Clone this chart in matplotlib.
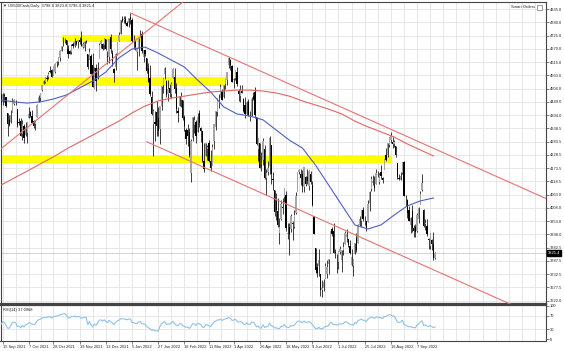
import numpy as np
import pandas as pd
import matplotlib
matplotlib.use("Agg")
import matplotlib.pyplot as plt
import matplotlib.transforms as mtransforms
from matplotlib.patches import Rectangle

plt.rcParams["font.family"] = ["Liberation Sans", "DejaVu Sans"]

# US500Cash daily bars, 14 Sep 2021 .. 22 Sep 2022 (no bars on 24 Dec 2021 and Good Friday)
dates = pd.bdate_range("2021-09-14", "2022-09-22").drop(pd.to_datetime(["2021-12-24", "2022-04-15"]))

opens = [
    4479, 4447, 4477, 4469, 4402, 4375, 4367, 4406, 4439, 4443, 4420, 4367, 4371,  # Sep 21
    4317, 4349, 4310, 4319, 4384, 4406, 4391, 4368, 4358, 4387, 4448, 4464, 4497, 4524, 4532, 4547, 4553, 4578, 4580, 4562, 4573,  # Oct
    4610, 4613, 4630, 4662, 4699, 4701, 4707, 4670, 4659, 4655, 4689, 4680, 4701, 4700, 4708, 4712, 4679, 4675, 4702, 4650, 4628, 4640,  # Nov
    4602, 4505, 4589, 4549, 4632, 4690, 4691, 4687, 4710, 4642, 4637, 4719, 4652, 4587, 4594, 4650, 4703, 4733, 4795, 4788, 4794, 4776,  # Dec
    4779, 4804, 4788, 4693, 4698, 4656, 4669, 4729, 4733, 4637, 4663, 4632, 4589, 4548, 4471, 4357, 4366, 4408, 4381, 4337, 4432,  # Jan 22
    4519, 4566, 4535, 4483, 4505, 4480, 4547, 4553, 4507, 4413, 4430, 4455, 4456, 4385, 4330, 4333, 4324, 4155, 4298, 4354,  # Feb
    4364, 4322, 4401, 4342, 4328, 4203, 4224, 4252, 4279, 4203, 4188, 4288, 4346, 4407, 4462, 4469, 4493, 4470, 4522, 4541, 4602, 4624, 4599,  # Mar
    4540, 4548, 4572, 4495, 4475, 4494, 4462, 4438, 4398, 4449, 4385, 4390, 4473, 4490, 4385, 4255, 4278, 4187, 4207, 4253,  # Apr
    4131, 4159, 4181, 4271, 4129, 4081, 4035, 3993, 3903, 3963, 4013, 4052, 4060, 3900, 3927, 3920, 3943, 3930, 3985, 4077, 4158, 4151,  # May
    4150, 4095, 4137, 4135, 4097, 4147, 4102, 3975, 3839, 3763, 3764, 3733, 3665, 3675, 3715, 3734, 3774, 3821, 3920, 3913, 3825, 3786,  # Jun
    3782, 3825, 3793, 3831, 3858, 3888, 3880, 3851, 3772, 3764, 3818, 3883, 3861, 3936, 3955, 3999, 3965, 3953, 3951, 4027, 4087,  # Jul
    4112, 4105, 4108, 4155, 4116, 4156, 4133, 4170, 4227, 4226, 4270, 4290, 4281, 4274, 4267, 4195, 4134, 4126, 4154, 4199, 4034, 4041, 4000,  # Aug
    3937, 3995, 3924, 3930, 3910, 3960, 4022, 4084, 3999, 3941, 3932, 3880, 3849, 3876, 3856, 3798.8,  # Sep 22
]
highs = [
    4485, 4486, 4485, 4471, 4402, 4394, 4416, 4465, 4463, 4457, 4420, 4383, 4383,
    4375, 4356, 4366, 4365, 4429, 4412, 4415, 4375, 4372, 4439, 4476, 4488, 4520, 4540, 4551, 4560, 4572, 4599, 4585, 4598, 4609,
    4620, 4636, 4664, 4683, 4718, 4714, 4708, 4685, 4664, 4688, 4697, 4714, 4701, 4708, 4717, 4744, 4699, 4702, 4708, 4650, 4672, 4647,
    4652, 4596, 4608, 4613, 4695, 4705, 4695, 4713, 4712, 4660, 4712, 4731, 4666, 4591, 4651, 4698, 4740, 4791, 4807, 4805, 4808, 4787,
    4797, 4819, 4798, 4726, 4708, 4673, 4714, 4749, 4745, 4665, 4667, 4632, 4612, 4602, 4495, 4418, 4412, 4453, 4429, 4432, 4517,
    4550, 4595, 4542, 4540, 4522, 4531, 4590, 4588, 4527, 4426, 4472, 4490, 4456, 4394, 4340, 4359, 4341, 4295, 4385, 4389,
    4375, 4401, 4416, 4343, 4328, 4276, 4277, 4268, 4292, 4247, 4272, 4358, 4412, 4466, 4481, 4522, 4501, 4520, 4546, 4575, 4637, 4627, 4603,
    4548, 4583, 4593, 4503, 4521, 4521, 4464, 4471, 4453, 4460, 4411, 4471, 4489, 4513, 4386, 4300, 4278, 4240, 4300, 4269,
    4170, 4201, 4308, 4271, 4158, 4082, 4069, 4050, 3964, 4039, 4047, 4091, 4077, 3946, 3943, 3981, 3955, 3999, 4076, 4158, 4170, 4168,
    4167, 4177, 4142, 4169, 4164, 4160, 4119, 3975, 3839, 3779, 3837, 3733, 3708, 3712, 3779, 3790, 3797, 3913, 3928, 3946, 3837, 3818,
    3829, 3850, 3833, 3865, 3911, 3919, 3880, 3874, 3835, 3796, 3863, 3903, 3939, 3975, 3999, 4012, 3976, 3954, 4040, 4078, 4140,
    4145, 4140, 4168, 4161, 4152, 4186, 4138, 4211, 4258, 4280, 4301, 4325, 4303, 4292, 4267, 4196, 4149, 4156, 4200, 4203, 4063, 4044, 4016,
    3970, 4019, 3935, 3942, 3987, 4011, 4077, 4150, 4003, 3962, 3960, 3881, 3902, 3877, 3907, 3823.8,
]
lows = [
    4435, 4438, 4448, 4427, 4305, 4347, 4360, 4406, 4435, 4436, 4346, 4352, 4306,
    4289, 4279, 4307, 4278, 4384, 4386, 4360, 4342, 4330, 4387, 4447, 4453, 4496, 4524, 4526, 4538, 4546, 4569, 4551, 4562, 4570,
    4595, 4604, 4621, 4662, 4681, 4694, 4670, 4631, 4648, 4650, 4673, 4679, 4684, 4673, 4690, 4680, 4673, 4660, 4695, 4586, 4626, 4565,
    4510, 4505, 4495, 4543, 4632, 4675, 4665, 4670, 4667, 4607, 4612, 4651, 4598, 4532, 4583, 4645, 4703, 4733, 4780, 4779, 4775, 4766,
    4759, 4775, 4700, 4669, 4663, 4582, 4638, 4719, 4651, 4614, 4640, 4568, 4531, 4474, 4396, 4222, 4287, 4305, 4309, 4273, 4414,
    4484, 4544, 4470, 4452, 4471, 4465, 4547, 4485, 4402, 4364, 4430, 4429, 4373, 4328, 4275, 4267, 4221, 4114, 4287, 4318,
    4279, 4322, 4345, 4284, 4199, 4157, 4223, 4209, 4200, 4162, 4188, 4252, 4330, 4390, 4425, 4469, 4455, 4465, 4502, 4518, 4589, 4581, 4530,
    4507, 4539, 4514, 4451, 4450, 4485, 4408, 4381, 4393, 4392, 4370, 4389, 4455, 4384, 4268, 4201, 4175, 4162, 4185, 4128,
    4063, 4145, 4147, 4106, 4082, 3976, 3958, 3929, 3859, 3958, 3984, 4034, 3913, 3878, 3811, 3909, 3876, 3925, 3984, 4077, 4150, 4104,
    4074, 4074, 4099, 4109, 4081, 4107, 4017, 3901, 3735, 3722, 3723, 3640, 3637, 3660, 3715, 3717, 3733, 3821, 3890, 3820, 3800, 3738,
    3752, 3815, 3742, 3811, 3858, 3868, 3847, 3815, 3766, 3723, 3817, 3823, 3861, 3931, 3927, 3955, 3936, 3911, 3951, 3993, 4080,
    4104, 4079, 4107, 4136, 4107, 4128, 4112, 4170, 4201, 4220, 4262, 4277, 4256, 4262, 4218, 4130, 4124, 4122, 4148, 4057, 4017, 3965, 3954,
    3904, 3907, 3885, 3887, 3906, 3945, 4022, 4080, 3928, 3914, 3889, 3837, 3838, 3831, 3789, 3796.4,
]
closes = [
    4443, 4481, 4473, 4433, 4358, 4354, 4396, 4449, 4455, 4443, 4353, 4360, 4308,
    4357, 4300, 4345, 4363, 4399, 4391, 4361, 4350, 4364, 4438, 4471, 4486, 4520, 4537, 4550, 4545, 4567, 4575, 4551, 4597, 4605,
    4614, 4631, 4661, 4680, 4697, 4702, 4685, 4647, 4650, 4683, 4682, 4701, 4689, 4705, 4698, 4683, 4691, 4702, 4700, 4595, 4655, 4567,
    4513, 4577, 4538, 4592, 4687, 4701, 4668, 4712, 4669, 4635, 4709, 4669, 4621, 4568, 4649, 4697, 4726, 4791, 4786, 4793, 4778, 4766,
    4797, 4794, 4701, 4696, 4677, 4670, 4713, 4726, 4659, 4663, 4650, 4577, 4533, 4483, 4398, 4410, 4357, 4350, 4327, 4432, 4516,
    4546, 4589, 4477, 4501, 4484, 4522, 4587, 4504, 4419, 4402, 4472, 4475, 4380, 4349, 4295, 4305, 4226, 4288, 4385, 4374,
    4306, 4387, 4363, 4329, 4201, 4171, 4278, 4260, 4204, 4173, 4262, 4358, 4412, 4463, 4461, 4512, 4456, 4520, 4543, 4575, 4632, 4602, 4530,
    4546, 4583, 4525, 4481, 4500, 4488, 4413, 4397, 4447, 4392, 4391, 4463, 4460, 4394, 4272, 4296, 4175, 4184, 4288, 4132,
    4155, 4175, 4300, 4147, 4123, 3991, 4001, 3935, 3930, 4024, 4008, 4089, 3924, 3901, 3901, 3974, 3941, 3979, 4058, 4158, 4165, 4132,
    4101, 4177, 4109, 4121, 4161, 4116, 4018, 3901, 3750, 3735, 3790, 3667, 3675, 3700, 3765, 3760, 3796, 3912, 3901, 3821, 3819, 3785,
    3825, 3835, 3831, 3845, 3903, 3899, 3855, 3819, 3802, 3790, 3863, 3831, 3937, 3960, 3999, 3962, 3967, 3921, 4024, 4073, 4130,
    4119, 4091, 4155, 4152, 4145, 4140, 4122, 4210, 4207, 4280, 4297, 4305, 4275, 4284, 4228, 4138, 4128, 4141, 4199, 4058, 4031, 3986, 3955,
    3967, 3924, 3910, 3909, 3980, 4006, 4067, 4110, 3932, 3946, 3901, 3873, 3900, 3856, 3799, 3821.4,
]
# closes before the visible range, only used to start the RSI
rsi_warmup = [4395, 4387, 4423, 4402, 4429, 4437, 4432, 4436, 4447, 4460, 4468, 4479, 4449, 4400, 4406, 4442,
              4480, 4486, 4497, 4470, 4509, 4529, 4523, 4524, 4537, 4535, 4536, 4520, 4514, 4493, 4459, 4469]

# moving averages, one value every 8 bars
ma_step = 8
sma50 = [4457, 4449, 4444, 4449, 4461, 4478, 4507, 4536, 4573, 4632, 4669, 4677, 4652, 4623, 4594, 4540, 4490,
         4428, 4399, 4390, 4374, 4332, 4290, 4257, 4186, 4103, 4020, 3937, 3920, 3937, 3978, 4016, 4037, 4049]
sma200 = [4103, 4132, 4161, 4191, 4220, 4253, 4282, 4311, 4340, 4369, 4403, 4432, 4453, 4465, 4473, 4482, 4490,
          4494, 4498, 4498, 4494, 4486, 4473, 4453, 4436, 4419, 4399, 4369, 4345, 4324, 4303, 4274, 4249, 4224]

# yellow zones
zone_from = ["2021-11-05", "2021-09-14", "2021-09-14"]
zone_to = ["2022-01-13", "2022-03-25", "2022-08-16"]
zone_low = [4698, 4515, 4195]
zone_high = [4727, 4553, 4222]

# trend lines (date, price)
rising_line = [("2021-09-14", 4254), ("2022-02-18", 4870)]
channel_top = [("2022-01-04", 4819), ("2022-08-16", 4335)]
channel_bottom_start = ("2022-01-18", 4283)

price_ticks = [4835.0, 4780.0, 4725.0, 4670.0, 4615.0, 4560.0, 4504.0, 4449.0, 4394.0, 4338.5, 4283.5, 4228.5,
               4173.5, 4118.5, 4063.0, 4008.0, 3953.0, 3898.0, 3842.5, 3787.5, 3732.5, 3677.5, 3622.0]
date_labels = ["15 Sep 2021", "7 Oct 2021", "28 Oct 2021", "19 Nov 2021", "13 Dec 2021", "5 Jan 2022",
               "27 Jan 2022", "18 Feb 2022", "11 Mar 2022", "1 Apr 2022", "26 Apr 2022", "18 May 2022",
               "9 Jun 2022", "1 Jul 2022", "25 Jul 2022", "16 Aug 2022", "7 Sep 2022"]
rsi_ticks = [100, 70, 30, 0]
last_price = 3821.4

assert len(opens) == len(highs) == len(lows) == len(closes) == len(dates)


def bar_of(d):
    return dates.get_loc(pd.Timestamp(d))


W, H = 564, 351
fig = plt.figure(figsize=(W / 100, H / 100), dpi=100)
fig.patch.set_facecolor("white")


def px_box(x0, y0, x1, y1):
    return [x0 / W, 1 - y1 / H, (x1 - x0) / W, (y1 - y0) / H]


ax = fig.add_axes(px_box(0.5, 1.5, 545.5, 303.5))
ax2 = fig.add_axes(px_box(0.5, 304.5, 545.5, 340.5))

xmin, xmax = -0.3, 332.4
grid_kw = dict(color="#e4e4e4", lw=0.6)
fs = 2.9

# vertical grid: at the date labels, halfway between them and on to the right edge
label_pos = [bar_of(pd.to_datetime(s, format="%d %b %Y")) for s in date_labels]
vgrid = []
for a, b in zip(label_pos[:-1], label_pos[1:]):
    vgrid += [a, (a + b) / 2]
g = label_pos[-1]
while g < xmax:
    vgrid.append(g)
    g += 8

for a in (ax, ax2):
    for gx in vgrid:
        a.axvline(gx, zorder=0, **grid_kw)
for p in price_ticks:
    ax.axhline(p, zorder=0, **grid_kw)
for r in (70, 30):
    ax2.axhline(r, zorder=0, **grid_kw)

# zones
for f, t, lo, hi in zip(zone_from, zone_to, zone_low, zone_high):
    i0, i1 = bar_of(f), bar_of(t)
    ax.add_patch(Rectangle((i0 - 0.5, lo), i1 - i0 + 1, hi - lo, facecolor="#ffff00", edgecolor="none", zorder=1))

# candles
x = np.arange(len(closes))
o, h, l, c = (np.asarray(v, dtype=float) for v in (opens, highs, lows, closes))
bull = c >= o
ax.vlines(x, l, h, color="#1e1e1e", lw=0.6, zorder=3)
body_lo = np.minimum(o, c)
body_h = np.maximum(np.abs(c - o), 1.5)
ax.bar(x[bull], body_h[bull], bottom=body_lo[bull], width=0.8, color="#a6a6a6", linewidth=0, zorder=4)
ax.bar(x[~bull], body_h[~bull], bottom=body_lo[~bull], width=0.8, color="#000000", linewidth=0, zorder=4)

# moving averages
ma_x = np.arange(len(sma50)) * ma_step
ax.plot(ma_x, sma50, color="#4f5fbf", lw=0.8, zorder=5)
ax.plot(ma_x, sma200, color="#e06666", lw=0.8, zorder=5)

# trend lines
red = "#e57373"
(d0, p0), (d1, p1) = rising_line
ax.axline((bar_of(d0), p0), (bar_of(d1), p1), color=red, lw=0.8, zorder=5)
(d0, p0), (d1, p1) = channel_top
slope = (p1 - p0) / (bar_of(d1) - bar_of(d0))
ax.plot([bar_of(d0), xmax], [p0, p0 + slope * (xmax - bar_of(d0))], color=red, lw=0.8, zorder=5)
db, pb = channel_bottom_start
ax.plot([bar_of(db), xmax], [pb, pb + slope * (xmax - bar_of(db))], color=red, lw=0.8, zorder=5)

# bid line
ax.axhline(last_price, color="#c0c0c0", lw=0.5, zorder=2)

ax.set_xlim(xmin, xmax)
ax.set_ylim(3610.0, 4866.8)
ax.set_xticks([])
ax.yaxis.tick_right()
ax.set_yticks(price_ticks)
ax.set_yticklabels([f"{p:.1f}" for p in price_ticks])
ax.tick_params(axis="y", labelsize=fs, length=2, width=0.4, pad=1, colors="#222222")

trans = mtransforms.blended_transform_factory(ax.transAxes, ax.transData)
ax.text(1.004, last_price, f"{last_price:.1f}", transform=trans, fontsize=fs, color="white",
        va="center", ha="left", zorder=10, clip_on=False,
        bbox=dict(boxstyle="square,pad=0.25", facecolor="black", edgecolor="black"))

# RSI(14), Wilder smoothing
allc = np.asarray(rsi_warmup + closes, dtype=float)
diff = np.diff(allc)
gain = np.where(diff > 0, diff, 0.0)
loss = np.where(diff < 0, -diff, 0.0)
ag, al = gain[:14].mean(), loss[:14].mean()
rsi_all = np.full(len(allc), np.nan)
rsi_all[14] = 100 - 100 / (1 + ag / al)
for k in range(14, len(diff)):
    ag = (ag * 13 + gain[k]) / 14
    al = (al * 13 + loss[k]) / 14
    rsi_all[k + 1] = 100 - 100 / (1 + ag / al)
rsi = rsi_all[len(rsi_warmup):]

ax2.plot(x, rsi, color="#8ec3ea", lw=0.8, zorder=3)
ax2.set_xlim(xmin, xmax)
ax2.set_ylim(-4.5, 104.5)
ax2.yaxis.tick_right()
ax2.set_yticks(rsi_ticks)
ax2.set_yticklabels([str(v) for v in rsi_ticks])
ax2.tick_params(axis="y", labelsize=fs, length=2, width=0.4, pad=1, colors="#222222")
ax2.set_xticks(label_pos)
ax2.set_xticklabels(date_labels, ha="left")
ax2.tick_params(axis="x", labelsize=fs, length=2, width=0.4, pad=1.5, colors="#222222")

for a in (ax, ax2):
    for s in a.spines.values():
        s.set_color("#444444")
        s.set_linewidth(0.8)
ax.spines["bottom"].set_linewidth(1.6)
ax2.spines["top"].set_linewidth(1.6)

fig.text(3 / W, 1 - 5.5 / H, "\u25bc US500Cash,Daily  3798.8 3823.8 3796.4 3821.4", fontsize=fs,
         va="center", ha="left", color="#222222")
fig.text(535 / W, 1 - 7 / H, "Smart Orders", fontsize=fs, va="center", ha="right", color="#222222")
fig.patches.append(Rectangle((536.5 / W, 1 - 9.5 / H), 5 / W, 5 / H, transform=fig.transFigure,
                             facecolor="white", edgecolor="#555555", lw=0.4))
fig.text(3 / W, 1 - 309.5 / H, "RSI(14) 37.0968", fontsize=fs, va="center", ha="left", color="#222222")

fig.savefig("out.png", dpi=100, facecolor="white")
